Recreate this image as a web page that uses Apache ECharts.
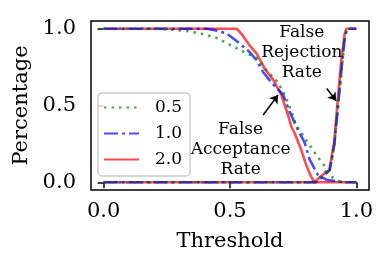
<!DOCTYPE html>
<html><head><meta charset="utf-8">
<script src="https://cdn.jsdelivr.net/npm/echarts@6/dist/echarts.min.js"></script>
<style>html,body{margin:0;padding:0;background:#fff}#c{width:391px;height:268px}</style>
</head><body><div id="c"></div>
<script>
const xTicks = [0, 0.5, 1.0];
const yTicks = [0, 0.5, 1.0];
const legendNames = ['0.5', '1.0', '2.0'];
// False acceptance rate curves [threshold, rate]
const far05 = [[0,1],[0.21,1],[0.33,0.985],[0.38,0.97],[0.447,0.94],[0.512,0.885],[0.565,0.84],[0.605,0.81],[0.644,0.73],[0.69,0.65],[0.716,0.57],[0.743,0.46],[0.762,0.37],[0.795,0.29],[0.828,0.21],[0.854,0.15],[0.887,0.08],[0.907,0.03],[0.933,0.005],[0.95,0],[1,0]];
const far10 = [[0,1],[0.41,1],[0.44,0.99],[0.486,0.97],[0.526,0.92],[0.57,0.86],[0.605,0.795],[0.63,0.72],[0.664,0.65],[0.71,0.57],[0.736,0.46],[0.769,0.34],[0.795,0.26],[0.815,0.15],[0.847,0.05],[0.88,0.017],[0.933,0.005],[0.95,0],[1,0]];
const far20 = [[0,1],[0.526,1],[0.545,0.967],[0.578,0.89],[0.605,0.84],[0.637,0.74],[0.67,0.67],[0.703,0.57],[0.729,0.44],[0.743,0.36],[0.756,0.32],[0.782,0.21],[0.80,0.12],[0.82,0.04],[0.834,0],[1,0]];
// False rejection rate curves
const frr05 = [[0,0],[0.834,0],[0.854,0.03],[0.88,0.07],[0.9,0.115],[0.913,0.24],[0.926,0.47],[0.94,0.70],[0.953,0.92],[0.962,1],[1,1]];
const frr10 = [[0,0],[0.84,0],[0.87,0.04],[0.895,0.08],[0.913,0.25],[0.928,0.5],[0.942,0.75],[0.955,0.95],[0.963,1],[1,1]];
const frr20 = [[0,0],[0.834,0],[0.867,0.05],[0.893,0.08],[0.913,0.27],[0.926,0.53],[0.94,0.79],[0.953,0.96],[0.96,1],[1,1]];
// annotations (data coordinates)
const frrText = {text: 'False\nRejection\nRate', at: [0.784, 0.846], from: [0.883, 0.611], to: [0.92, 0.531]};
const farText = {text: 'False\nAcceptance\nRate', at: [0.542, 0.212], from: [0.631, 0.438], to: [0.69, 0.568]};

const FONT = 'DejaVu Serif';
const styles = {
  '0.5': {color: 'rgba(0,128,0,0.7)', type: [2.5, 5], cap: 'butt'},
  '1.0': {color: 'rgba(0,0,255,0.7)', type: [14, 4, 3, 4], cap: 'butt'},
  '2.0': {color: 'rgba(255,0,0,0.7)', type: 'solid', cap: 'butt'}
};
function mk(name, data) {
  const s = styles[name];
  return {type: 'line', name: name, data: data, showSymbol: false, symbol: 'none',
    animation: false, z: 3,
    lineStyle: {color: s.color, width: 2.6, type: s.type, cap: s.cap},
    itemStyle: {color: s.color}};
}
function annot(a) {
  return {type: 'line', data: [], silent: true, animation: false,
    markPoint: {symbol: 'circle', symbolSize: 0, animation: false,
      data: [{coord: a.at, label: {show: true, formatter: a.text, color: '#000', fontFamily: FONT, fontSize: 17, lineHeight: 20, align: 'center', verticalAlign: 'middle'}}]},
    markLine: {symbol: ['none', 'arrow'], symbolSize: 8, animation: false, silent: true,
      label: {show: false}, lineStyle: {color: '#000', width: 1.5, type: 'solid'},
      data: [[{coord: a.from}, {coord: a.to}]]}};
}
const chart = echarts.init(document.getElementById('c'), null, {renderer: 'canvas'});
chart.setOption({
  backgroundColor: '#fff',
  animation: false,
  grid: {left: 91, right: 22, top: 21, bottom: 78, show: true, borderColor: '#000', borderWidth: 1.5, backgroundColor: 'transparent'},
  xAxis: {type: 'value', min: -0.05, max: 1.05, name: 'Threshold', nameLocation: 'middle', nameGap: 41,
    nameTextStyle: {fontFamily: FONT, fontSize: 21, color: '#000'},
    splitLine: {show: false}, axisLine: {show: false},
    axisTick: {show: true, customValues: xTicks, length: 6, lineStyle: {color: '#000', width: 1.5}},
    axisLabel: {customValues: xTicks, formatter: v => v.toFixed(1), fontFamily: FONT, fontSize: 21, color: '#000', margin: 11}},
  yAxis: {type: 'value', min: -0.05, max: 1.05, name: 'Percentage', nameLocation: 'middle', nameGap: 53,
    nameTextStyle: {fontFamily: FONT, fontSize: 21, color: '#000'},
    splitLine: {show: false}, axisLine: {show: false},
    axisTick: {show: true, customValues: yTicks, length: 6, lineStyle: {color: '#000', width: 1.5}},
    axisLabel: {customValues: yTicks, formatter: v => v.toFixed(1), fontFamily: FONT, fontSize: 21, color: '#000', margin: 15}},
  legend: {data: legendNames, orient: 'vertical', left: 98, top: 93, itemWidth: 35, itemHeight: 17, itemGap: 9,
    padding: [6, 8, 8, 5], backgroundColor: 'rgba(255,255,255,0.8)', borderColor: '#c8c8c8', borderWidth: 1.3, borderRadius: 4,
    itemStyle: {opacity: 0},
    textStyle: {fontFamily: FONT, fontSize: 17, color: '#000', padding: [0, 0, 0, 11]}},
  series: [
    mk('2.0', far20), mk('2.0', frr20),
    mk('1.0', far10), mk('1.0', frr10),
    mk('0.5', far05), mk('0.5', frr05),
    annot(frrText), annot(farText)
  ]
});
</script></body></html>
